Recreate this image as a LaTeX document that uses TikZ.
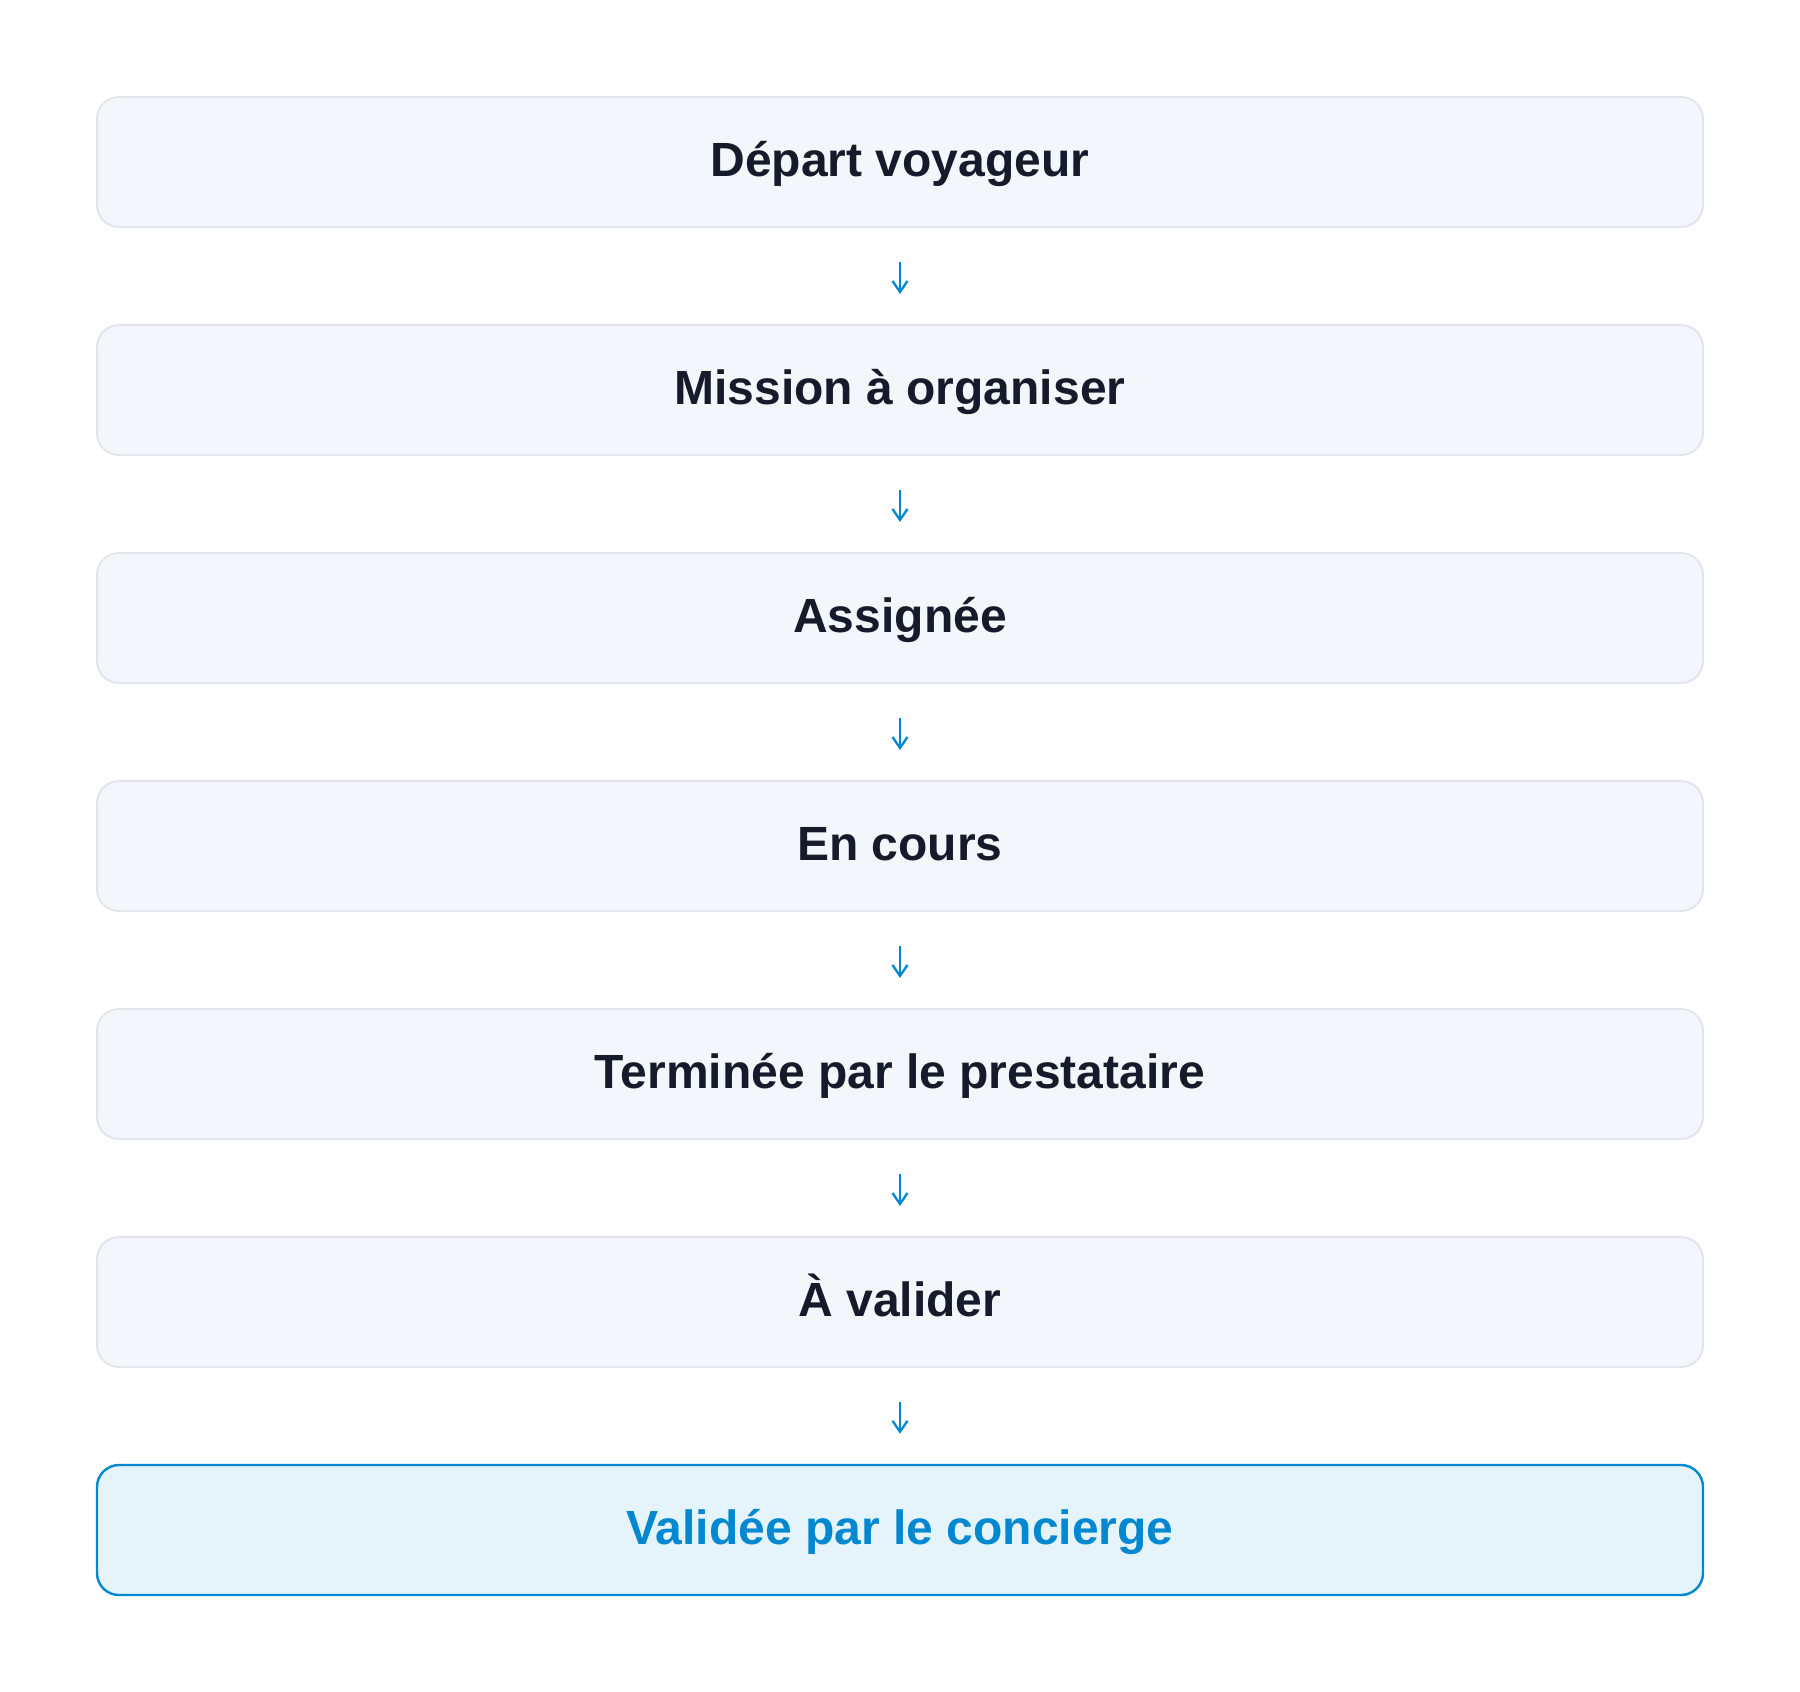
\documentclass[tikz,border=0pt]{standalone}
\usepackage{fontspec}
\setmainfont{Liberation Sans}
\usetikzlibrary{arrows.meta}
\definecolor{boxfill}{HTML}{F3F6FA}
\definecolor{boxline}{HTML}{E2E6EB}
\definecolor{txtdark}{HTML}{151B2B}
\definecolor{accent}{HTML}{0288D1}
\definecolor{accentfill}{HTML}{E5F3FB}
\tikzset{
  stepbox/.style={draw=boxline, line width=1pt, fill=boxfill, rounded corners=11pt,
    minimum width=803pt, minimum height=65pt, inner sep=0pt,
    text height=17pt, text depth=2.3pt, text=txtdark,
    font=\fontsize{24pt}{28pt}\selectfont\bfseries},
  finalbox/.style={stepbox, draw=accent, line width=1.2pt, fill=accentfill, text=accent},
  flow/.style={draw=accent, line width=1.15pt, shorten <=17pt, shorten >=15pt,
    -{Straight Barb[length=5.5pt,width=7.5pt,line width=1.15pt]}}
}
\begin{document}
\begin{tikzpicture}[x=0.5pt,y=-0.5pt]
\useasboundingbox (0,0) rectangle (1800,1692);
\node[stepbox] (n1) at (900,162) {Départ voyageur};
\node[stepbox] (n2) at (900,390) {Mission à organiser};
\node[stepbox] (n3) at (900,618) {Assignée};
\node[stepbox] (n4) at (900,846) {En cours};
\node[stepbox] (n5) at (900,1074) {Terminée par le prestataire};
\node[stepbox] (n6) at (900,1302) {À valider};
\node[finalbox] (n7) at (900,1530) {Validée par le concierge};
\draw[flow] (n1.south) -- (n2.north);
\draw[flow] (n2.south) -- (n3.north);
\draw[flow] (n3.south) -- (n4.north);
\draw[flow] (n4.south) -- (n5.north);
\draw[flow] (n5.south) -- (n6.north);
\draw[flow] (n6.south) -- (n7.north);
\end{tikzpicture}
\end{document}
